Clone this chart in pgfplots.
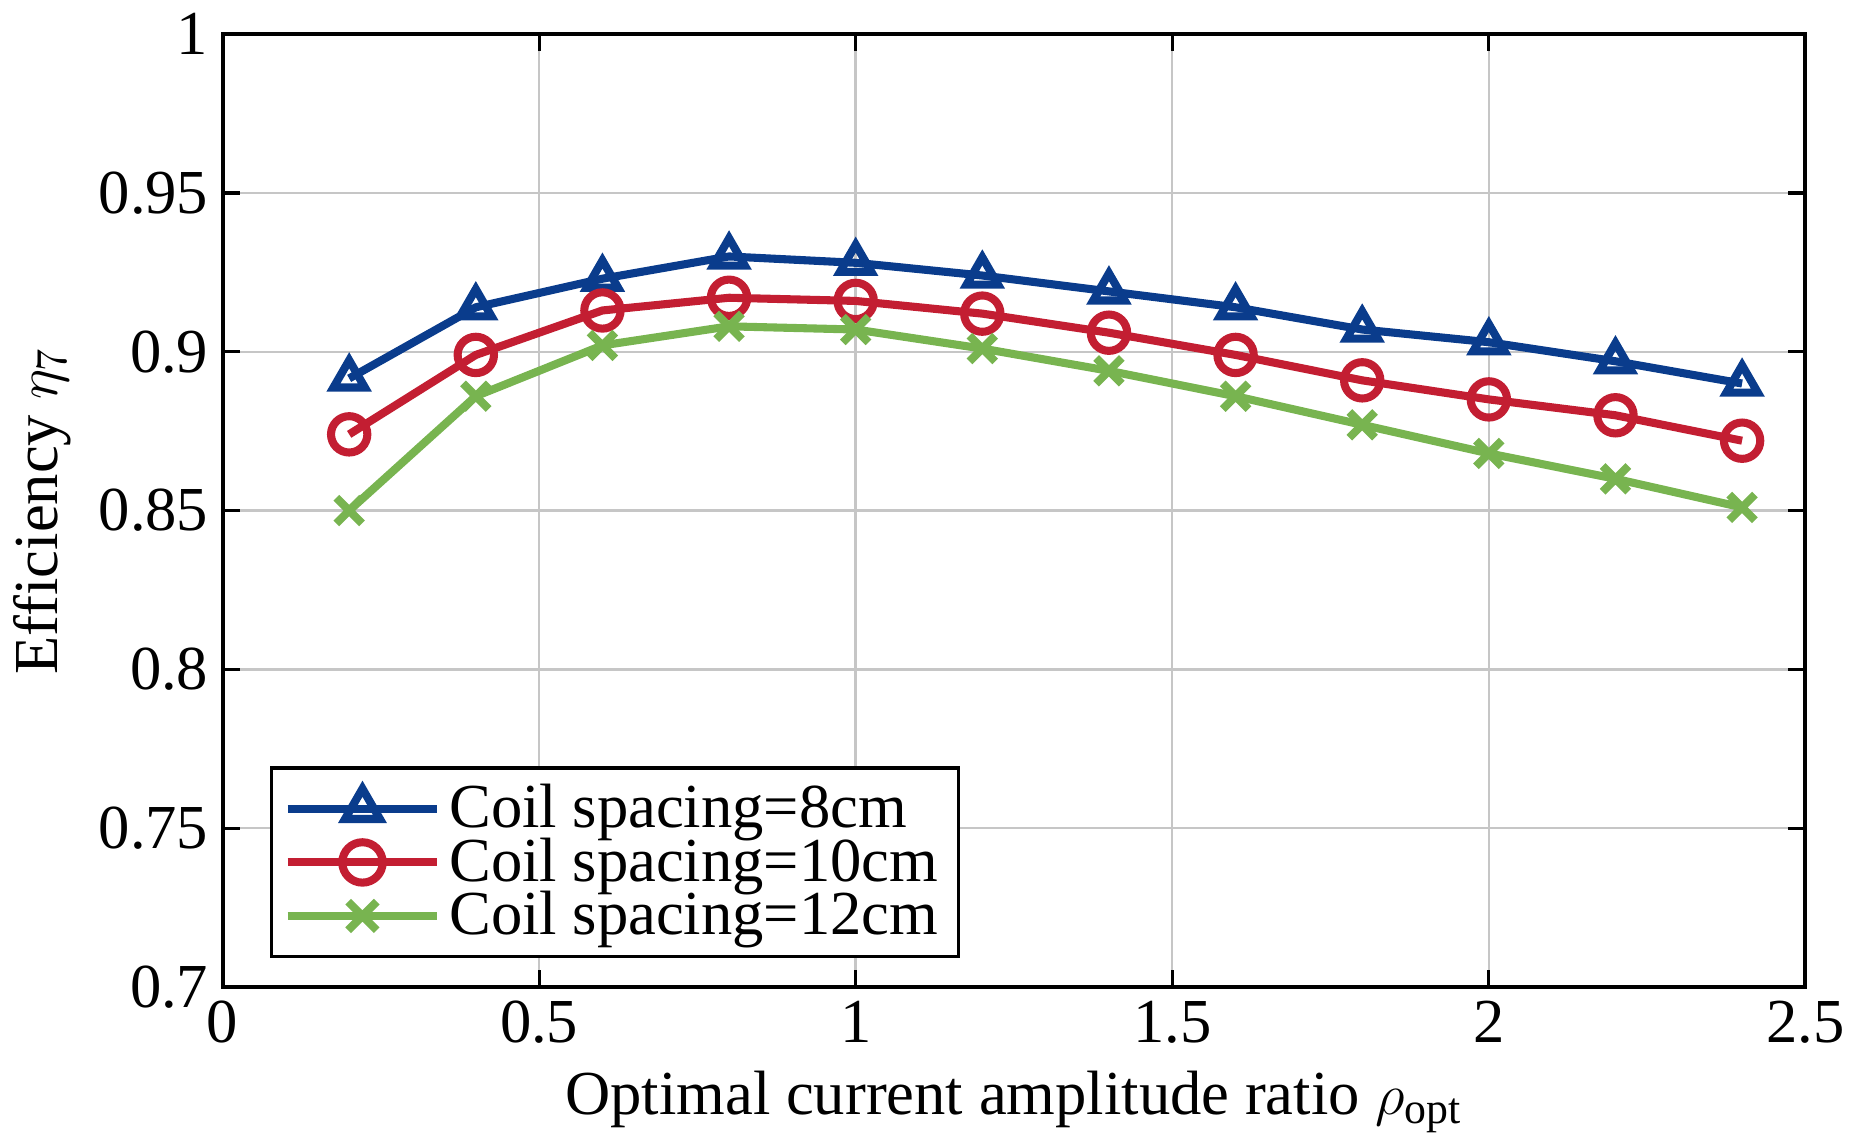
\documentclass[border=0pt]{standalone}
\usepackage{pgfplots}
\pgfplotsset{compat=1.18}
\usepackage{fontspec}
\setmainfont{Liberation Serif}
\definecolor{cb}{RGB}{10,60,140}
\definecolor{cr}{RGB}{195,30,50}
\definecolor{cg}{RGB}{120,180,80}
\begin{document}
\begin{tikzpicture}
\begin{axis}[
  width=392pt, height=236pt, scale only axis,
  xmin=0, xmax=2.5, ymin=0.7, ymax=1,
  xtick={0,0.5,1,1.5,2,2.5}, ytick={0.7,0.75,0.8,0.85,0.9,0.95,1},
  xticklabels={0,0.5,1,1.5,2,2.5},
  yticklabels={0.7,0.75,0.8,0.85,0.9,0.95,1},
  grid=major, major grid style={gray!45, line width=0.6pt},
  axis line style={line width=1pt}, tick style={line width=0.8pt, black},
  tick align=inside,
  font=\fontsize{15.5}{18}\selectfont,
  xlabel={Optimal current amplitude ratio $\rho_{\mathrm{opt}}$},
  ylabel={Efficiency $\eta_7$},
  legend pos=south west,
  legend cell align=left,
  legend style={draw=black, line width=0.8pt, font=\fontsize{15.5}{18}\selectfont, row sep=-3pt},
  legend image post style={mark size=5pt},
  legend image code/.code={\draw[#1] (0cm,0cm) -- (1.3cm,0cm); \draw[#1, mark repeat=2, mark phase=2] plot coordinates {(0cm,0cm)(0.65cm,0cm)(1.3cm,0cm)};},
  every axis plot/.append style={line width=2pt, mark size=4.5pt, mark options={line width=2pt}},
]
\addplot[cb, mark=triangle] coordinates {(0.2,0.8916)(0.4,0.914)(0.6,0.923)(0.8,0.930)(1.0,0.928)(1.2,0.924)(1.4,0.919)(1.6,0.914)(1.8,0.907)(2.0,0.903)(2.2,0.897)(2.4,0.890)};
\addplot[cr, mark=o] coordinates {(0.2,0.874)(0.4,0.899)(0.6,0.913)(0.8,0.917)(1.0,0.916)(1.2,0.912)(1.4,0.906)(1.6,0.899)(1.8,0.891)(2.0,0.885)(2.2,0.880)(2.4,0.872)};
\addplot[cg, mark=x] coordinates {(0.2,0.850)(0.4,0.886)(0.6,0.902)(0.8,0.908)(1.0,0.907)(1.2,0.901)(1.4,0.894)(1.6,0.886)(1.8,0.877)(2.0,0.868)(2.2,0.860)(2.4,0.851)};
\legend{Coil spacing=8cm, Coil spacing=10cm, Coil spacing=12cm}
\end{axis}
\end{tikzpicture}
\end{document}
